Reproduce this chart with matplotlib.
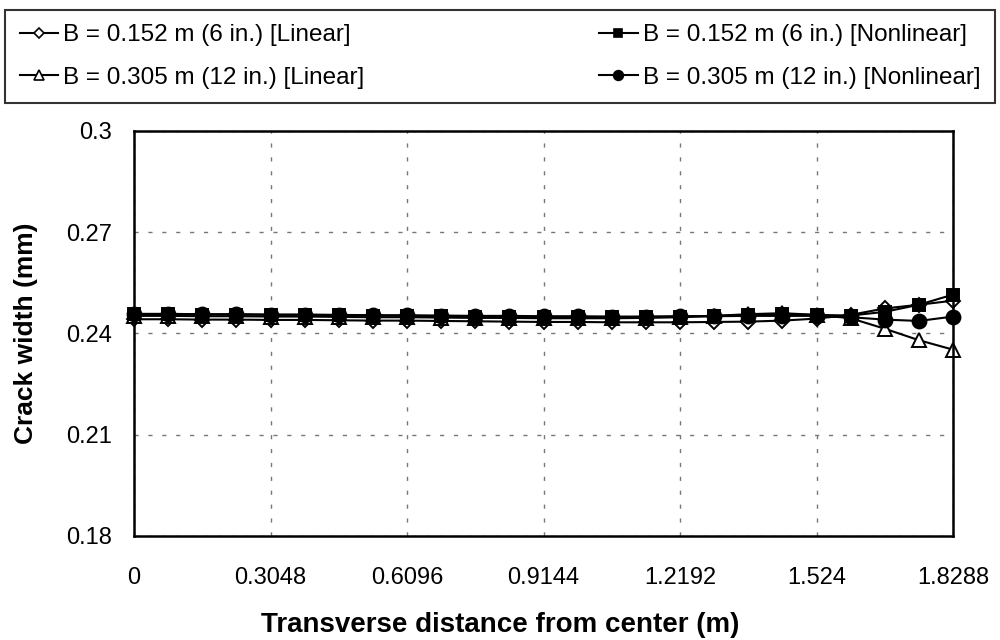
import matplotlib.pyplot as plt
import numpy as np
from matplotlib.lines import Line2D

plt.rcParams["font.family"] = ["Liberation Sans", "DejaVu Sans"]

# Transverse distance from center (m), every 3 in.
distance = [
    0.0, 0.0762, 0.1524, 0.2286, 0.3048, 0.381, 0.4572, 0.5334, 0.6096,
    0.6858, 0.762, 0.8382, 0.9144, 0.9906, 1.0668, 1.143, 1.2192,
    1.2954, 1.3716, 1.4478, 1.524, 1.6002, 1.6764, 1.7526, 1.8288,
]

# B = 0.152 m, linear
linear_6 = [
    0.2442, 0.2442, 0.2441, 0.2441, 0.2440, 0.2440, 0.2439, 0.2438, 0.2438,
    0.2437, 0.2436, 0.2435, 0.2434, 0.2434, 0.2433, 0.2433, 0.2433,
    0.2434, 0.2435, 0.2438, 0.2444, 0.2455, 0.2474, 0.2485, 0.2497,
]

# B = 0.152 m, nonlinear
nonlinear_6 = [
    0.2457, 0.2457, 0.2456, 0.2456, 0.2455, 0.2455, 0.2454, 0.2453, 0.2452,
    0.2451, 0.2450, 0.2449, 0.2449, 0.2448, 0.2448, 0.2449, 0.2450,
    0.2452, 0.2455, 0.2457, 0.2455, 0.2453, 0.2464, 0.2485, 0.2515,
]

# B = 0.305 m, linear
linear_12 = [
    0.2452, 0.2452, 0.2451, 0.2451, 0.2450, 0.2450, 0.2449, 0.2448, 0.2448,
    0.2447, 0.2446, 0.2446, 0.2445, 0.2445, 0.2445, 0.2446, 0.2448,
    0.2452, 0.2457, 0.2460, 0.2455, 0.2445, 0.2414, 0.2380, 0.2352,
]

# B = 0.305 m, nonlinear
nonlinear_12 = [
    0.2458, 0.2458, 0.2457, 0.2457, 0.2456, 0.2456, 0.2455, 0.2454, 0.2454,
    0.2453, 0.2452, 0.2452, 0.2451, 0.2451, 0.2450, 0.2450, 0.2451,
    0.2451, 0.2452, 0.2452, 0.2452, 0.2448, 0.2441, 0.2437, 0.2450,
]

x_ticks = [0, 0.3048, 0.6096, 0.9144, 1.2192, 1.524, 1.8288]
x_tick_labels = ["0", "0.3048", "0.6096", "0.9144", "1.2192", "1.524", "1.8288"]
y_ticks = [0.18, 0.21, 0.24, 0.27, 0.3]
y_tick_labels = ["0.18", "0.21", "0.24", "0.27", "0.3"]

series = [
    (linear_6, "D", "white", "B = 0.152 m (6 in.) [Linear]", 7.5),
    (linear_12, "^", "white", "B = 0.305 m (12 in.) [Linear]", 9.5),
    (nonlinear_6, "s", "black", "B = 0.152 m (6 in.) [Nonlinear]", 9),
    (nonlinear_12, "o", "black", "B = 0.305 m (12 in.) [Nonlinear]", 10),
]

fig = plt.figure(figsize=(10, 6.4), dpi=100)
ax = fig.add_axes([0.134, 0.1625, 0.819, 0.633])

handles = []
for values, marker, face, label, size in series:
    ax.plot(
        distance,
        values,
        color="black",
        linewidth=1.5,
        marker=marker,
        markersize=size,
        markerfacecolor=face,
        markeredgecolor="black",
        markeredgewidth=1.4,
        clip_on=False,
    )
    handles.append(
        Line2D(
            [0], [0],
            color="black",
            linewidth=1.5,
            marker=marker,
            markersize=size * 0.7,
            markerfacecolor=face,
            markeredgecolor="black",
            markeredgewidth=1.2,
            label=label,
        )
    )

ax.set_xlim(0, 1.8288)
ax.set_ylim(0.18, 0.3)
ax.set_xticks(x_ticks)
ax.set_xticklabels(x_tick_labels)
ax.set_yticks(y_ticks)
ax.set_yticklabels(y_tick_labels)
ax.tick_params(axis="both", length=0, labelsize=17)
ax.tick_params(axis="x", pad=22)
ax.tick_params(axis="y", pad=16)

ax.grid(True, color="#777777", linestyle=(0, (3, 7)), linewidth=1)
ax.set_axisbelow(True)
for spine in ax.spines.values():
    spine.set_linewidth(1.8)
    spine.set_color("black")

ax.set_ylabel("Crack width (mm)", fontsize=19, fontweight="bold", labelpad=20)
fig.text(
    0.5,
    0.024,
    "Transverse distance from center (m)",
    ha="center",
    va="center",
    fontsize=20,
    fontweight="bold",
)

leg = fig.legend(
    handles=handles,
    loc="upper left",
    bbox_to_anchor=(0.005, 0.84, 0.99, 0.145),
    mode="expand",
    ncol=2,
    fontsize=17.5,
    frameon=True,
    fancybox=False,
    handlelength=1.6,
    handletextpad=0.2,
    borderaxespad=0,
    borderpad=0.6,
    labelspacing=0.85,
)
leg.get_frame().set_edgecolor("black")
leg.get_frame().set_linewidth(1.5)

fig.savefig("out.png", dpi=100)
